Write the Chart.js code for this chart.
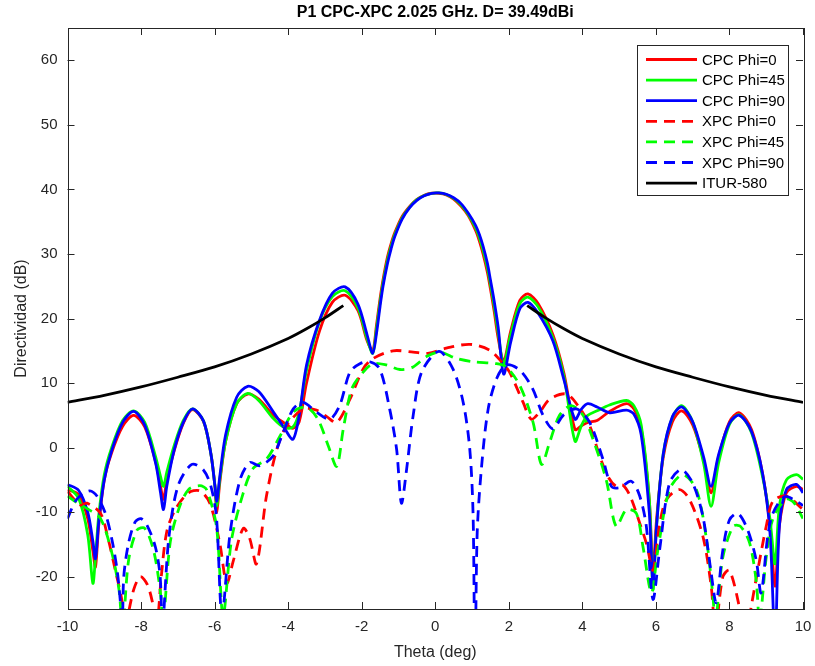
<!DOCTYPE html>
<html>
<head>
<meta charset="utf-8">
<script src="https://cdn.jsdelivr.net/npm/chart.js@4.4.1/dist/chart.umd.min.js"></script>
<style>
  html, body { margin: 0; padding: 0; background: #fff; }
</style>
</head>
<body>
<canvas id="chart" width="815" height="666"></canvas>
<script>
const chartTitle = 'P1 CPC-XPC 2.025 GHz. D= 39.49dBi';

// ejes
const thetaTicks = [-10, -8, -6, -4, -2, 0, 2, 4, 6, 8, 10];
const dbTicks = [-20, -10, 0, 10, 20, 30, 40, 50, 60];

// copolar (CPC), mismo eje theta para los tres cortes
const cpcTheta = [
  -10, -9.7, -9.45, -9.31, -9.24, -9.15, -9.0, -8.8, -8.5, -8.2,
  -7.9, -7.6, -7.47, -7.39, -7.3, -7.1, -6.85, -6.6, -6.3, -6.1,
  -5.99, -5.94, -5.86, -5.7, -5.4, -5.1, -4.8, -4.4, -4.1, -3.87,
  -3.7, -3.5, -3.15, -2.8, -2.45, -2.1,
  -1.85, -1.7, -1.6, -1.5, -1.42, -1.3, -1.2, -1.1, -0.9, -0.69, -0.5, -0.3, -0.1,
  0.1, 0.3, 0.5, 0.7, 0.9, 1.1, 1.2, 1.3, 1.42, 1.5, 1.6, 1.71, 1.86,
  2.05, 2.3, 2.52, 2.8, 3.2, 3.5, 3.8, 3.98, 4.15, 4.4,
  4.74, 5.2, 5.4, 5.6, 5.82, 5.92, 6.02, 6.2, 6.45, 6.7,
  7.0, 7.3, 7.5, 7.7, 8.0, 8.27, 8.6, 8.9, 9.1, 9.24,
  9.36, 9.55, 9.82, 10
];
const cpcPhi0 = [
  -6.5, -7.3, -11, -16, -18.5, -12, -5, -0.8, 3.3, 5.0,
  3.2, -2.3, -6, -8, -5, -0.5, 3.8, 5.9, 4, -1,
  -6, -10, -5.5, 1, 6.8, 8.3, 7.5, 5, 3.8, 3,
  4, 10, 18, 22.5, 23.6, 21.2,
  16.5, 15.0, 18.9, 23.1, 26.0, 29.5, 31.6, 33.3, 35.8, 37.4, 38.45, 39.1, 39.4,
  39.4, 39.15, 38.5, 37.4, 35.9, 33.6, 32.0, 30.0, 27.1, 24.6, 21.2, 17, 13.4,
  18, 22.8, 23.8, 22.3, 17.5, 11.5, 2.8, 3.4, 3.9, 4.2,
  5.6, 6.8, 6.0, 3, -8, -19, -11, -1.5, 4, 5.7,
  3.5, -2, -7, -1.5, 4, 5.4, 2.8, -4, -12, -21.5,
  -12, -7, -6, -6.5
];
const cpcPhi45 = [
  -6.0, -7.8, -13.5, -21, -17, -10.5, -4.2, 0, 4.2, 5.7,
  3.9, -1.5, -4.5, -6, -3.8, 0.3, 4.2, 6.0, 4.1, -1,
  -6, -9, -5, 1, 6.8, 8.4, 7.3, 4.5, 3.1, 3.2,
  5.5, 12, 19.5, 23.4, 24.3, 21.6,
  16.8, 14.6, 18.3, 22.5, 25.5, 29.0, 31.2, 33.0, 35.6, 37.3, 38.4, 39.05, 39.4,
  39.45, 39.2, 38.6, 37.6, 36.1, 34.0, 32.5, 30.6, 27.8, 25.3, 22, 17.8, 13.0,
  17.5, 22.3, 23.3, 21.8, 17, 11, 1.0, 3.5, 5, 5.7,
  6.6, 7.3, 6.5, 3.5, -8, -22, -12, -1, 4.7, 6.5,
  4, -2.5, -9.1, -2.5, 3.6, 5.1, 2.3, -4.5, -11, -18,
  -9, -5, -4.2, -4.9
];
const cpcPhi90 = [
  -5.7, -6.6, -10, -14.5, -17.2, -11.5, -5, -0.5, 3.9, 5.6,
  3.5, -2.5, -7, -9.6, -6, -0.4, 3.9, 6.0, 4.1, -1,
  -6, -8.3, -4.5, 2, 7.8, 9.5, 8.7, 5.5, 3, 1.3,
  5, 12.8, 19.7, 23.9, 24.9, 22.2,
  17.4, 14.6, 17.6, 21.9, 25.0, 28.5, 30.8, 32.7, 35.4, 37.2, 38.3, 39.0, 39.4,
  39.45, 39.25, 38.7, 37.8, 36.3, 34.4, 33.0, 31.2, 28.5, 26.0, 22.8, 18.7, 11.4,
  16.3, 21.5, 22.5, 20.8, 16.5, 10.5, 4.4, 6.0, 6.8, 6.3,
  5.4, 5.8, 5.2, 2, -10, -21, -12, -1, 4.8, 6.3,
  4, -1.5, -6, -1.2, 3.8, 5.0, 2.5, -4, -13, -30,
  -12, -6.5, -5.7, -7
];

// contrapolar (XPC)
const xpcPhi0Theta = [
  -10, -9.65, -9.47, -9.1, -8.9, -8.7, -8.52, -8.45, -8.2, -8.02,
  -7.84, -7.7, -7.58, -7.45, -7.3, -7.07, -6.71, -6.4, -6.13, -5.86,
  -5.67, -5.49, -5.22, -5.05, -4.86, -4.59, -4.31, -4.04, -3.59, -3.23,
  -2.95, -2.68, -2.32, -1.96, -1.69, -1.15, -0.6, -0.2, 0.3, 0.94,
  1.48, 1.8, 2.02, 2.39, 2.61, 2.84, 3.11, 3.57, 3.93, 4.2,
  4.47, 4.7, 4.92, 5.1, 5.3, 5.56, 5.75, 5.92, 6.1, 6.28,
  6.64, 6.92, 7.28, 7.5, 7.62, 7.82, 8.0, 8.27, 8.43, 8.59,
  8.77, 9.0, 9.18, 9.54, 10
];
const xpcPhi0 = [
  -6.8, -8.9, -8.6, -10.2, -14, -19, -23.7, -28, -22, -20,
  -21.1, -23.7, -28, -20, -13, -9.6, -7, -6.7, -8.6, -14.8,
  -21, -17.5, -12.5, -14, -18, -7.5, -0.3, 3.4, 6.0, 5.8,
  4.8, 3.9, 7.5, 12.2, 13.8, 15, 14.8, 14.6, 15.4, 16.0,
  15.1, 13.3, 11.7, 7, 4.4, 5.5, 7.5, 8.3, 6.1, 3.4,
  -1.3, -4.5, -6, -5.8, -7.5, -11.7, -15, -19, -12, -8.1,
  -6.5, -8.1, -13.8, -21.3, -28, -20, -19, -24.7, -30, -24.7,
  -19, -12.2, -8.3, -7.5, -9.6
];
const xpcPhi45Theta = [
  -10, -9.75, -9.45, -9.1, -8.79, -8.6, -8.5, -8.34, -8.11, -7.9,
  -7.66, -7.48, -7.4, -7.21, -6.98, -6.71, -6.4, -6.22, -5.95, -5.77,
  -5.54, -5.22, -4.95, -4.59, -4.22, -3.86, -3.5, -3.19, -2.91, -2.68,
  -2.5, -2.27, -1.96, -1.69, -1.33, -0.96, -0.6, -0.24, 0.12, 0.58,
  1.03, 1.66, 1.93, 2.3, 2.66, 2.89, 3.11, 3.38, 3.7, 4.02,
  4.29, 4.65, 4.92, 5.2, 5.47, 5.65, 5.88, 6.05, 6.37, 6.73,
  7.1, 7.37, 7.55, 7.62, 7.82, 8.1, 8.3, 8.55, 8.73, 8.82,
  9.0, 9.18, 9.54, 9.75, 10
];
const xpcPhi45 = [
  -7.5, -8.5, -9.5, -11, -16.4, -22, -28, -17.5, -12.8, -12.5,
  -15.9, -22.1, -27, -14.8, -9.6, -6.5, -5.9, -6.5, -12.2, -26,
  -14.3, -7, -3.2, -1.8, 1.8, 5.5, 6.25, 4.4, 0.3, -2.9,
  2.9, 9.1, 11.7, 13, 12.8, 12.1, 12.5, 14.1, 14.8, 13.8,
  13.3, 13, 12.5, 9.6, 3.9, -2.6, 0.8, 5, 6.5, 5,
  1.3, -5, -12.2, -9.6, -10.2, -15.4, -22.5, -16, -6.5, -4.2,
  -6.5, -14, -23, -27, -17, -12.2, -12.2, -14.8, -20.8, -27,
  -17, -11, -8, -8.5, -11
];
const xpcPhi90Theta = [
  -10, -9.75, -9.4, -9.2, -8.97, -8.79, -8.65, -8.56, -8.51, -8.47,
  -8.34, -8.16, -8.0, -7.84, -7.61, -7.48, -7.42, -7.25, -7.0, -6.62,
  -6.3, -6.1, -5.95, -5.8, -5.58, -5.31, -5.04, -4.77, -4.41, -4.14,
  -3.86, -3.59, -3.23, -2.87, -2.6, -2.32, -2.05, -1.78, -1.51, -1.24,
  -1.05, -0.92, -0.78, -0.6, -0.37, 0.1, 0.48, 0.76, 0.94, 1.03,
  1.08, 1.14, 1.26, 1.44, 1.67, 1.93, 2.3, 2.65, 2.93, 3.2,
  3.48, 3.84, 4.2, 4.56, 4.79, 5.01, 5.33, 5.56, 5.74, 5.92,
  6.1, 6.37, 6.69, 7.0, 7.28, 7.5, 7.64, 7.82, 8.0, 8.23,
  8.5, 8.73, 8.86, 9.04, 9.18, 9.5, 9.82, 10
];
const xpcPhi90 = [
  -11, -8, -6.7, -7.5, -10.2, -14.3, -19, -24, -28, -20,
  -14.8, -11.5, -11, -12, -15.4, -20, -28, -14.3, -6, -2.6,
  -3.5, -6, -10.7, -26, -13.3, -5, -2.3, -2.8, -1.3, 2.3,
  6, 7, 5.5, 4.4, 6.5, 11.7, 13, 13.3, 12.2, 6,
  -0.3, -8.6, -3.4, 5, 11.7, 14.9, 12.2, 7, -0.3, -10.7,
  -35, -13.3, -2.9, 6, 10.7, 12.8, 12, 9.1, 5, 2.9,
  5, 6, 3.9, -1.8, -6, -6.2, -5.2, -7.5, -12.2, -23.5,
  -15.9, -5.5, -3.4, -5.5, -10.7, -19.3, -24, -15.9, -11.2, -10.2,
  -12.8, -17.5, -22.5, -13.8, -10.2, -7.6, -8.3, -9
];

// mascara ITU-R S.580 (null = hueco entre los dos tramos)
const iturTheta = [-10, -9, -8, -7, -6, -5, -4, -3.5, -3, -2.5, 0, 2.5, 3, 3.5, 4, 5, 6, 7, 8, 9, 10];
const itur = [7.0, 8.1, 9.4, 10.9, 12.5, 14.5, 16.9, 18.4, 20.1, 22.0, null, 22.0, 20.1, 18.4, 16.9, 14.5, 12.5, 10.9, 9.4, 8.1, 7.0];

const toXY = (xs, ys) => xs.map((t, i) => ({ x: t, y: ys[i] }));
const DASH = [11, 7];
const FONT = '"Liberation Sans", Arial, Helvetica, sans-serif';

const datasets = [
  { label: 'CPC Phi=0',  data: toXY(cpcTheta, cpcPhi0),  borderColor: '#ff0000', order: 7 },
  { label: 'CPC Phi=45', data: toXY(cpcTheta, cpcPhi45), borderColor: '#00ff00', order: 6 },
  { label: 'CPC Phi=90', data: toXY(cpcTheta, cpcPhi90), borderColor: '#0000ff', order: 5 },
  { label: 'XPC Phi=0',  data: toXY(xpcPhi0Theta, xpcPhi0),   borderColor: '#ff0000', borderDash: DASH, order: 4 },
  { label: 'XPC Phi=45', data: toXY(xpcPhi45Theta, xpcPhi45), borderColor: '#00ff00', borderDash: DASH, order: 3 },
  { label: 'XPC Phi=90', data: toXY(xpcPhi90Theta, xpcPhi90), borderColor: '#0000ff', borderDash: DASH, order: 2 },
  { label: 'ITUR-580',   data: toXY(iturTheta, itur),  borderColor: '#000000', order: 1 }
];

// caja tipo MATLAB: titulo centrado sobre los ejes, marco, ticks hacia dentro y leyenda
const matlabBox = {
  id: 'matlabBox',
  afterDraw(chart) {
    const { ctx, chartArea: a, scales: { x, y } } = chart;
    ctx.save();

    ctx.fillStyle = '#000';
    ctx.font = 'bold 16px ' + FONT;
    ctx.textAlign = 'center';
    ctx.textBaseline = 'middle';
    ctx.fillText(chartTitle, (a.left + a.right) / 2, 13);

    ctx.strokeStyle = '#262626';
    ctx.lineWidth = 1;
    ctx.setLineDash([]);
    ctx.strokeRect(Math.round(a.left) + 0.5, Math.round(a.top) + 0.5,
      Math.round(a.right - a.left), Math.round(a.bottom - a.top));
    ctx.beginPath();
    thetaTicks.forEach(v => {
      const px = Math.round(x.getPixelForValue(v)) + 0.5;
      ctx.moveTo(px, a.bottom); ctx.lineTo(px, a.bottom - 7);
      ctx.moveTo(px, a.top); ctx.lineTo(px, a.top + 7);
    });
    dbTicks.forEach(v => {
      const py = Math.round(y.getPixelForValue(v)) + 0.5;
      ctx.moveTo(a.left, py); ctx.lineTo(a.left + 7, py);
      ctx.moveTo(a.right, py); ctx.lineTo(a.right - 7, py);
    });
    ctx.stroke();

    // leyenda
    const bx = Math.round(a.right) - 166, by = Math.round(a.top) + 17, bw = 151, bh = 150;
    ctx.fillStyle = '#fff';
    ctx.fillRect(bx, by, bw, bh);
    ctx.strokeStyle = '#262626';
    ctx.strokeRect(bx + 0.5, by + 0.5, bw, bh);
    ctx.font = '15px ' + FONT;
    ctx.textAlign = 'left';
    ctx.textBaseline = 'middle';
    chart.data.datasets.forEach((ds, i) => {
      const ly = by + 14.5 + i * 20.6;
      ctx.beginPath();
      ctx.strokeStyle = ds.borderColor;
      ctx.lineWidth = 2.8;
      ctx.setLineDash(ds.borderDash || []);
      ctx.moveTo(bx + 9, ly);
      ctx.lineTo(bx + 60, ly);
      ctx.stroke();
      ctx.fillStyle = '#000';
      ctx.fillText(ds.label, bx + 65, ly + 1);
    });
    ctx.restore();
  }
};

new Chart(document.getElementById('chart'), {
  type: 'line',
  data: { datasets },
  options: {
    responsive: false,
    animation: false,
    layout: { padding: { left: 0, right: 12, top: 28, bottom: 0 } },
    elements: {
      point: { radius: 0 },
      line: { borderWidth: 2.8, tension: 0.3, fill: false }
    },
    plugins: {
      legend: { display: false },
      tooltip: { enabled: false },
      title: { display: false }
    },
    scales: {
      x: {
        type: 'linear',
        min: -10, max: 10,
        afterBuildTicks: s => { s.ticks = thetaTicks.map(v => ({ value: v })); },
        afterFit: s => { s.height = 57; s.paddingLeft = 0; s.paddingRight = 0; },
        grid: { display: false, drawTicks: false },
        border: { display: false },
        ticks: { color: '#262626', padding: 9, font: { family: FONT, size: 15 } },
        title: {
          display: true, text: 'Theta (deg)', color: '#262626',
          font: { family: FONT, size: 16 }, padding: { top: 0, bottom: 4 }
        }
      },
      y: {
        type: 'linear',
        min: -25, max: 65,
        afterBuildTicks: s => { s.ticks = dbTicks.map(v => ({ value: v })); },
        afterFit: s => { s.width = 67.5; s.paddingTop = 0; s.paddingBottom = 0; },
        grid: { display: false, drawTicks: false },
        border: { display: false },
        ticks: { color: '#262626', padding: 10, font: { family: FONT, size: 15 } },
        title: {
          display: true, text: 'Directividad (dB)', color: '#262626',
          font: { family: FONT, size: 16 }, padding: { top: 12, bottom: 0 }
        }
      }
    }
  },
  plugins: [matlabBox]
});
</script>
</body>
</html>
